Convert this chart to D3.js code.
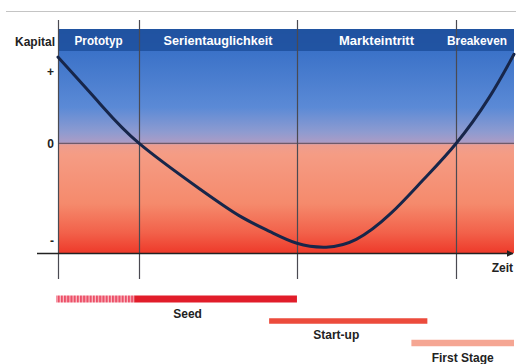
<!DOCTYPE html>
<html>
<head>
<meta charset="utf-8">
<script src="https://cdn.jsdelivr.net/npm/d3@7"></script>
<style>
  html, body { margin: 0; padding: 0; background: #fff; }
  svg { display: block; }
  text { font-family: "Liberation Sans", Arial, sans-serif; font-weight: bold; }
</style>
</head>
<body>
<script>
// Capital curve over time (time in % of the horizon, capital in relative units)
const timePoints = [0, 9.2, 17.8, 31.1, 39.9, 46.5, 52.4, 58.8, 65.4, 72.8, 80, 87.3, 94.5, 100];
const capital    = [0.89, 0.41, 0, -0.47, -0.75, -0.91, -1.03, -1.07, -0.99, -0.73, -0.38, 0, 0.47, 0.92];

// Phases along the time axis
const phaseNames  = ["Prototyp", "Serientauglichkeit", "Markteintritt", "Breakeven"];
const phaseStarts = [0, 17.8, 52.4, 87.3];
const phaseEnds   = [17.8, 52.4, 87.3, 100];

// Capital axis labels
const capitalTickValues = [0.74, 0, -1];
const capitalTickLabels = ["+", "0", "-"];

// Financing stages
const stages      = ["Seed", "Start-up", "First Stage"];
const stageStarts = [-0.4, 46.3, 77.5];
const stageEnds   = [52.4, 81, 100];
const seedPrepEnd = 16.7;   // hatched pre-seed part
const stageColors = ["#e11d2a", "#ec4b3c", "#f5a693"];

const W = 516, H = 364;
const svg = d3.select("body").append("svg").attr("width", W).attr("height", H);

const plot = { left: 58, right: 514, top: 29, bottom: 253 };

const x = d3.scaleLinear().domain([0, 100]).range([plot.left, plot.right]);
const y = d3.scaleLinear().domain([-1.13, 1.18]).range([plot.bottom, plot.top]);
const row = d3.scalePoint().domain(stages).range([299, 343]);

const defs = svg.append("defs");

// Background: blue above zero, salmon to red below
const grad = defs.append("linearGradient").attr("id", "bg")
  .attr("x1", 0).attr("y1", 0).attr("x2", 0).attr("y2", 1);
[
  [0, "#2f63b8"], [0.10, "#3b72c8"], [0.35, "#5b8ad6"], [0.46, "#8e9bd0"],
  [0.505, "#aa9cc6"], [0.52, "#ee9d8e"], [0.56, "#f59c84"], [0.78, "#f58a6c"],
  [0.91, "#f2614a"], [1, "#ee3a2a"]
].forEach(([o, c]) => grad.append("stop").attr("offset", o).attr("stop-color", c));

const hatch = defs.append("pattern").attr("id", "hatch")
  .attr("patternUnits", "userSpaceOnUse").attr("width", 3.2).attr("height", 10);
hatch.append("rect").attr("width", 3.2).attr("height", 10).attr("fill", "#fbc2c8");
hatch.append("rect").attr("width", 2.1).attr("height", 10).attr("fill", "#ec5068");

const arrow = defs.append("marker").attr("id", "arrow")
  .attr("viewBox", "0 0 10 10").attr("refX", 9).attr("refY", 5)
  .attr("markerWidth", 7).attr("markerHeight", 7).attr("orient", "auto")
  .attr("markerUnits", "userSpaceOnUse");
arrow.append("path").attr("d", "M0,0 L10,5 L0,10 Z").attr("fill", "#222");

// Top rule
svg.append("line").attr("x1", 6).attr("x2", W).attr("y1", 11.5).attr("y2", 11.5)
  .attr("stroke", "#c4c4c4").attr("stroke-width", 1);

// Plot background
svg.append("rect")
  .attr("x", plot.left).attr("y", plot.top)
  .attr("width", plot.right - plot.left).attr("height", plot.bottom - plot.top)
  .attr("fill", "url(#bg)");

// Header band
const bandH = 22;
svg.append("rect")
  .attr("x", plot.left).attr("y", plot.top)
  .attr("width", plot.right - plot.left).attr("height", bandH)
  .attr("fill", "#1f519f").attr("opacity", 0.9);

// Zero line
svg.append("line")
  .attr("x1", plot.left).attr("x2", plot.right)
  .attr("y1", y(0)).attr("y2", y(0))
  .attr("stroke", "#5a4a5a").attr("stroke-width", 1.4).attr("opacity", 0.8);

// Phase boundaries
svg.append("g").selectAll("line").data(phaseStarts).join("line")
  .attr("x1", d => Math.round(x(d)) + 0.5).attr("x2", d => Math.round(x(d)) + 0.5)
  .attr("y1", 20).attr("y2", 279)
  .attr("stroke", "#4a4a52").attr("stroke-width", 1.2);

// Phase names in the header band
const phaseWidths = [48, 109, 75, 60];
svg.append("g").selectAll("text").data(phaseNames).join("text")
  .attr("x", (d, i) => {
    const mid = x((phaseStarts[i] + phaseEnds[i]) / 2);
    return Math.min(mid, plot.right - phaseWidths[i] / 2 - 7);
  })
  .attr("y", plot.top + 15.5)
  .attr("text-anchor", "middle")
  .attr("fill", "#ffffff")
  .attr("font-size", 13)
  .attr("textLength", (d, i) => phaseWidths[i])
  .attr("lengthAdjust", "spacingAndGlyphs")
  .text(d => d);

// Capital axis
const yAxis = d3.axisLeft(y)
  .tickValues(capitalTickValues)
  .tickFormat((d, i) => capitalTickLabels[i])
  .tickSize(0).tickPadding(4);
const yg = svg.append("g").attr("transform", `translate(${plot.left},0)`).call(yAxis);
yg.select(".domain").remove();
yg.selectAll("text").attr("font-size", 12).attr("font-weight", "bold")
  .attr("font-family", "Liberation Sans, Arial, sans-serif").attr("fill", "#222");

svg.append("text").attr("x", 55).attr("y", 45.5).attr("text-anchor", "end")
  .attr("font-size", 12).attr("fill", "#222").text("Kapital");

// Time axis with arrow
svg.append("line")
  .attr("x1", 37).attr("x2", plot.right - 1)
  .attr("y1", plot.bottom + 0.5).attr("y2", plot.bottom + 0.5)
  .attr("stroke", "#222").attr("stroke-width", 1.6)
  .attr("marker-end", "url(#arrow)");
svg.append("text").attr("x", 513).attr("y", 271.5).attr("text-anchor", "end")
  .attr("font-size", 12).attr("fill", "#222").text("Zeit");

// Capital curve
const line = d3.line()
  .x((d, i) => x(timePoints[i]))
  .y(d => y(d))
  .curve(d3.curveNatural);
svg.append("path").datum(capital)
  .attr("d", line)
  .attr("fill", "none")
  .attr("stroke", "#17264a")
  .attr("stroke-width", 3)
  .attr("stroke-linecap", "round");

// Financing stage bars
const barH = [7, 5.5, 6.5];
const bars = svg.append("g");
bars.selectAll("rect.stage").data(stages).join("rect")
  .attr("class", "stage")
  .attr("x", (d, i) => x(i === 0 ? seedPrepEnd : stageStarts[i]))
  .attr("y", (d, i) => row(d) - barH[i] / 2)
  .attr("width", (d, i) => x(stageEnds[i]) - x(i === 0 ? seedPrepEnd : stageStarts[i]))
  .attr("height", (d, i) => barH[i])
  .attr("fill", (d, i) => stageColors[i]);

bars.append("rect")
  .attr("x", x(stageStarts[0]))
  .attr("y", row(stages[0]) - barH[0] / 2)
  .attr("width", x(seedPrepEnd) - x(stageStarts[0]))
  .attr("height", barH[0])
  .attr("fill", "url(#hatch)");

// Stage names below the bars, nudged off-centre so they don't crowd one another
const labelNudge = [11, -12, 0];
bars.selectAll("text").data(stages).join("text")
  .attr("x", (d, i) => (x(stageStarts[i]) + x(stageEnds[i])) / 2 + labelNudge[i])
  .attr("y", (d, i) => row(d) + barH[i] / 2 + 15.5)
  .attr("text-anchor", "middle")
  .attr("font-size", 12)
  .attr("fill", "#222")
  .text(d => d);
</script>
</body>
</html>
